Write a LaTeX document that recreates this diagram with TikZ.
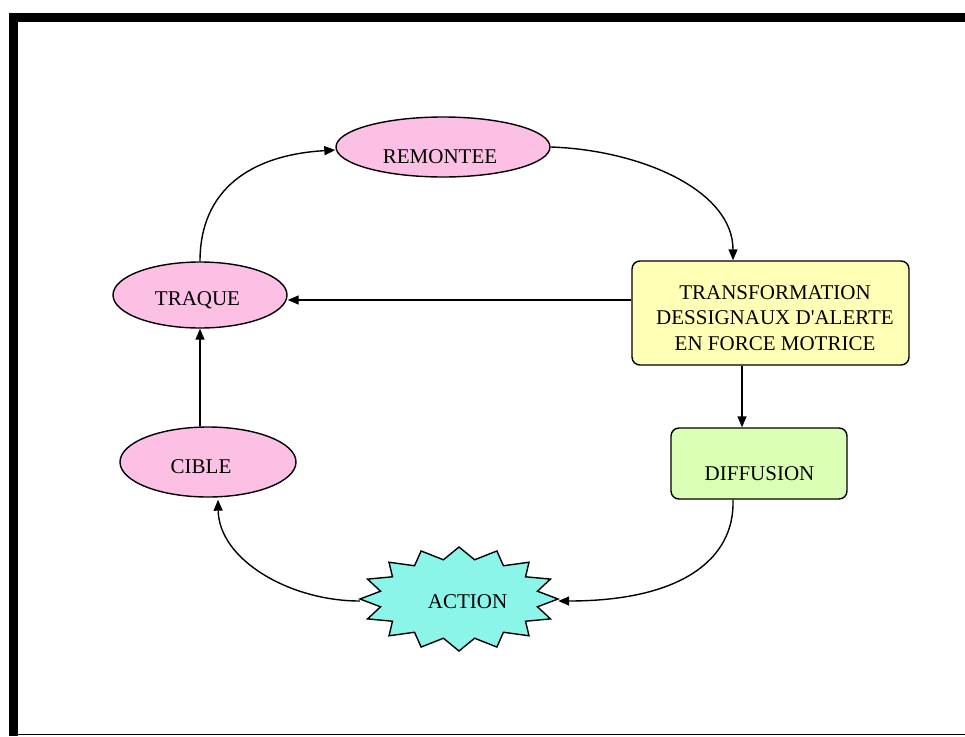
\documentclass[tikz,border=0pt]{standalone}
\usepackage{fontspec}
\newfontfamily\diagfont{Liberation Serif}
\usetikzlibrary{arrows.meta,shapes.geometric}

\definecolor{pinkfill}{RGB}{251,192,228}
\definecolor{yellowfill}{RGB}{255,255,182}
\definecolor{greenfill}{RGB}{218,255,180}
\definecolor{cyanfill}{RGB}{140,245,234}

\tikzset{
  bubble/.style={ellipse, draw=black, line width=1.4pt, fill=pinkfill, inner sep=0pt},
  panel/.style={rectangle, draw=black, line width=1.4pt, rounded corners=8pt, inner sep=0pt},
  caption/.style={font=\diagfont\fontsize{21}{25.5}\selectfont, inner sep=0pt, align=center},
  link/.style={line width=1.4pt, -{Triangle[length=11pt,width=9pt]}},
}

\begin{document}
\begin{tikzpicture}[x=1pt,y=-1pt]
  \useasboundingbox (0,0) rectangle (965,736);
  % page frame
  \fill[black] (9,13) rectangle (965,22);
  \fill[black] (9,13) rectangle (18,736);
  \draw[black, line width=1.6pt] (9,734.5) -- (965,734.5);

  % ellipses
  \node[bubble, minimum width=214pt, minimum height=60pt] (remontee) at (443,147) {};
  \node[bubble, minimum width=174pt, minimum height=66pt] (traque) at (200,295) {};
  \node[bubble, minimum width=176pt, minimum height=70pt] (cible) at (208,462) {};

  % boxes
  \node[panel, fill=yellowfill, minimum width=277pt, minimum height=104pt] (transf) at (770.5,313) {};
  \node[panel, fill=greenfill, minimum width=176pt, minimum height=71pt] (diffusion) at (759,463.5) {};

  % sixteen-point star
  \filldraw[fill=cyanfill, draw=black, line width=1.4pt]
    plot[samples at={0,...,31}] ({459+ifthenelse(mod(\x,2)==0,99,80)*cos(\x*11.25)},
                                 {599-ifthenelse(mod(\x,2)==0,52,40)*sin(\x*11.25)}) -- cycle;
  \node[ellipse, minimum width=198pt, minimum height=104pt, inner sep=0pt] (action) at (459,599) {};

  % labels
  \node[caption, anchor=base] (tRemontee) at (440,163) {REMONTEE};
  \node[caption, anchor=base] (tTraque) at (197.5,305) {TRAQUE};
  \node[caption, anchor=base] (tCible) at (201,473) {CIBLE};
  \node[caption, anchor=base] (tAction) at (467.5,608) {ACTION};
  \node[caption, anchor=base] (tDiffusion) at (759.5,480) {DIFFUSION};
  \node[caption] (tTransf) at (775,318) {TRANSFORMATION\\DESSIGNAUX D'ALERTE\\EN FORCE MOTRICE};

  % connectors
  \draw[link] (traque.north) .. controls (200,190) and (250,155) .. ([yshift=-3pt]remontee.west);
  \draw[link] (remontee.east) .. controls (640,150) and (733,190) .. ([xshift=-37.5pt]transf.north);
  \draw[link] ([yshift=13pt]transf.west) -- ([yshift=-5pt]traque.east);
  \draw[link] ([xshift=-28.5pt]transf.south) -- ([xshift=-17pt]diffusion.north);
  \draw[link] ([xshift=-26pt]diffusion.south) .. controls (735,560) and (680,601) .. ([yshift=-2pt]action.east);
  \draw[link] ([yshift=-2pt]action.west) .. controls (290,601) and (219,560) .. ([xshift=10pt,yshift=-2pt]cible.south);
  \draw[link] ([xshift=-8pt]cible.north) -- (traque.south);
\end{tikzpicture}
\end{document}
